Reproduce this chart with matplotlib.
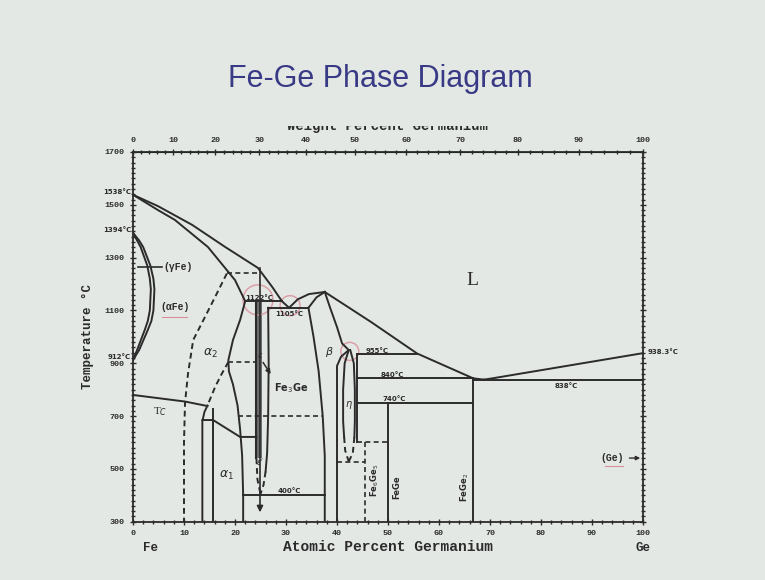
import numpy as np
import matplotlib.pyplot as plt
from matplotlib.patches import Ellipse, Rectangle

# phase boundaries, points are (at.% Ge, temperature in C)
liquidus_fe = [(0, 1538), (4.9, 1495), (11.6, 1424), (18.1, 1340), (24.5, 1261),
               (27.3, 1189), (29.2, 1135), (30.6, 1110)]
solidus_fe = [(0, 1538), (4.9, 1480), (8.2, 1443), (14.7, 1340), (20.0, 1215), (22.0, 1135)]
gamma_outer = [(0, 1394), (1.2, 1365), (2.0, 1340), (3.4, 1270), (4.0, 1220), (4.2, 1180),
               (4.1, 1140), (4.0, 1100), (3.6, 1060), (2.9, 1026), (1.2, 950), (0, 912)]
gamma_inner = [(0, 1394), (0.8, 1365), (1.5, 1340), (2.8, 1270), (3.3, 1220), (3.5, 1180),
               (3.4, 1140), (3.3, 1100), (2.9, 1060), (2.3, 1026), (0.8, 950), (0, 912)]
alpha_edge = [(22.0, 1135), (21.0, 1064), (19.6, 988), (18.7, 912), (18.8, 870),
              (19.6, 820), (20.5, 740), (21.0, 650), (21.4, 550), (21.6, 400), (21.6, 300)]
alpha_order = [(18.4, 1240), (16.1, 1151), (13.5, 1052), (11.8, 988), (11.2, 912),
               (10.8, 863), (10.2, 750), (10.0, 600), (10.0, 300)]
alpha2_alpha1 = [(18.7, 905), (17.4, 860), (16.1, 810), (14.6, 740)]
alpha1_left = [(14.6, 740), (14.0, 715), (13.6, 680), (13.6, 300)]
alpha1_right = [(15.7, 728), (15.7, 300)]
curie = [(0, 780), (10.2, 755), (14.6, 738)]
curie_low = [(13.6, 685), (15.7, 685), (21.0, 621), (24.2, 621)]

eps_band_x = [24.2, 25.2]
eps_band_t = [1135, 540]
eps_right = [(26.5, 1110), (26.6, 900), (26.5, 700), (26.3, 560), (26.0, 490)]
eps_tip_right = [(26.0, 490), (25.6, 440), (25.0, 405)]
eps_tip_left = [(24.2, 540), (24.4, 460), (25.0, 405)]

liquidus_mid = [(30.6, 1110), (32.3, 1142), (34.5, 1162), (37.6, 1170)]
beta_top_left = [(34.4, 1110), (36.0, 1150), (37.6, 1170)]
beta_left = [(34.4, 1110), (35.4, 1000), (36.4, 870), (37.2, 700), (37.6, 550), (37.6, 300)]
beta_right = [(37.6, 1170), (38.6, 1113), (40.0, 1037), (41.0, 975), (42.3, 950),
              (40.8, 925), (40.0, 890), (40.0, 300)]
liquidus_right = [(37.6, 1170), (46.7, 1056), (55.7, 937), (66.7, 843), (68.8, 838)]
liquidus_ge = [(68.8, 838), (70.5, 843), (100, 938.3)]

eta_left = [(42.3, 950), (41.5, 900), (41.2, 800), (41.2, 680), (41.4, 620)]
eta_left_low = [(41.4, 620), (41.6, 570), (42.3, 528)]
eta_right = [(42.6, 950), (43.3, 900), (43.5, 800), (43.5, 680), (43.4, 620)]
eta_right_low = [(43.4, 620), (43.1, 560), (42.3, 528)]

# invariant lines: (x_start, x_end, temperature)
solid_isotherms = [(22.0, 29.2, 1135), (26.5, 34.4, 1110), (43.9, 55.7, 935),
                   (43.9, 66.7, 843), (43.9, 66.7, 750), (66.7, 100, 838), (21.6, 37.6, 400)]
dashed_isotherms = [(18.4, 24.6, 1240), (18.7, 24.4, 905), (20.5, 37.3, 700),
                    (43.9, 50.0, 600), (40.0, 45.5, 526)]
# compound lines: (x, t_top, t_bottom)
solid_verticals = [(43.9, 935, 600), (50.0, 750, 300), (66.7, 843, 300)]
dashed_verticals = [(45.5, 600, 300)]

temp_labels = [("1122°C", 24.8, 1148), ("1105°C", 30.6, 1088), ("955°C", 47.8, 948),
               ("840°C", 50.8, 856), ("740°C", 51.2, 763), ("838°C", 85.0, 812),
               ("400°C", 30.6, 415)]
left_marks = [("1538°C", 1538), ("1394°C", 1394), ("912°C", 912)]
compounds = [("Fe$_6$Ge$_5$", 47.5, 455), ("FeGe", 51.8, 430), ("FeGe$_2$", 65.1, 430)]
at_ticks = list(range(0, 101, 10))
t_ticks = list(range(300, 1701, 200))
wt_ticks = list(range(0, 101, 10))

INK = '#2b2b2b'
BG = '#e4e8e5'
MONO = 'Liberation Mono'
DASH = (0, (3, 2))


def wt_to_at(w):
    w = np.asarray(w, dtype=float)
    a = w / 72.63
    b = (100 - w) / 55.845
    return 100 * a / (a + b)


def curve(pts, ls='-', lw=1.4):
    xs, ts = zip(*pts)
    ax.plot(xs, ts, color=INK, lw=lw, ls=ls, solid_joinstyle='round')


fig = plt.figure(figsize=(7.65, 5.8), dpi=100)
fig.patch.set_facecolor(BG)

fig.text(0.497, 0.864, "Fe-Ge Phase Diagram", ha='center', va='center',
         fontsize=22, color='#393a85', family='Liberation Sans')
# the weight-percent caption is cut off at the top on the slide
fig.text(0.507, 0.782, "Weight Percent Germanium", ha='center', va='center',
         fontsize=10, family=MONO, weight='bold', color=INK, zorder=0)
fig.patches.append(Rectangle((0, 0.783), 1, 0.035, transform=fig.transFigure,
                             facecolor=BG, edgecolor='none', zorder=1))

ax = fig.add_axes([133 / 765, 1 - 521.7 / 580, 510 / 765, 369.7 / 580])
ax.set_facecolor(BG)
ax.set_xlim(0, 100)
ax.set_ylim(300, 1700)

for pts in [liquidus_fe, solidus_fe, gamma_outer, gamma_inner, alpha_edge,
            alpha1_left, alpha1_right, curie, curie_low, eps_right,
            liquidus_mid, beta_top_left, beta_left, beta_right, liquidus_right,
            liquidus_ge, eta_left, eta_right]:
    curve(pts)
for pts in [alpha_order, alpha2_alpha1, eps_tip_right, eps_tip_left,
            eta_left_low, eta_right_low]:
    curve(pts, ls=DASH)

# narrow epsilon field shaded
ax.fill_betweenx(eps_band_t, eps_band_x[0], eps_band_x[1], color='#6d6d6d', lw=0)
ax.plot([eps_band_x[0]] * 2, eps_band_t, color=INK, lw=1.5)

for x0, x1, t in solid_isotherms:
    ax.plot([x0, x1], [t, t], color=INK, lw=1.4)
for x0, x1, t in dashed_isotherms:
    ax.plot([x0, x1], [t, t], color=INK, lw=1.2, ls=DASH)
for x, t0, t1 in solid_verticals:
    ax.plot([x, x], [t0, t1], color=INK, lw=1.4)
for x, t0, t1 in dashed_verticals:
    ax.plot([x, x], [t0, t1], color=INK, lw=1.2, ls=DASH)

# cooling path at 25 at.% drawn on the slide
ax.annotate('', xy=(24.9, 325), xytext=(24.9, 1272),
            arrowprops=dict(arrowstyle='-|>', color=INK, lw=1.2, mutation_scale=9))

# red pen circles from the lecture
for cx, ct, r in [(24.5, 1140, 15), (30.8, 1118, 10), (42.5, 945, 9)]:
    ax.add_patch(Ellipse((cx, ct), 2 * r / 5.1, 2 * r / 0.2641, fill=False,
                         edgecolor='#d88d97', lw=1.1, alpha=0.8))

for txt, x, t in temp_labels:
    ax.text(x, t, txt, fontsize=5, weight='bold', ha='center', va='center',
            family='DejaVu Sans', color=INK)
for txt, x, t in compounds:
    ax.text(x, t, txt, fontsize=6, weight='bold', rotation=90, ha='center',
            va='center', color=INK)

ax.text(66.5, 1215, "L", fontsize=14, family='Liberation Serif', ha='center', va='center', color=INK)
ax.plot([1.0, 5.7], [1265, 1265], color=INK, lw=1.2)
ax.text(5.9, 1265, "(γFe)", fontsize=7, weight='bold', family=MONO, va='center', color=INK)
ax.text(5.3, 1113, "(αFe)", fontsize=7, weight='bold', family=MONO, va='center', color=INK)
ax.plot([5.6, 10.5], [1075, 1075], color='#d88d97', lw=0.8)
ax.text(15.1, 939, r"$\alpha_2$", fontsize=9, ha='center', va='center', color=INK)
ax.text(18.4, 477, r"$\alpha_1$", fontsize=9, ha='center', va='center', color=INK)
ax.text(5.3, 718, r"T$_C$", fontsize=8, ha='center', va='center', color=INK, family='Liberation Serif')
ax.text(38.6, 943, r"$\beta$", fontsize=8, ha='center', va='center', color=INK)
ax.text(42.4, 742, r"$\eta$", fontsize=7, ha='center', va='center', color=INK)
ax.text(24.9, 931, r"$\epsilon$", fontsize=6, ha='center', va='center', color=INK)
ax.text(24.9, 527, r"$\epsilon'$", fontsize=6, ha='center', va='center', color=INK)
ax.annotate("Fe$_3$Ge", xy=(27.3, 850), xytext=(27.6, 805), fontsize=7, weight='bold',
            ha='left', va='center', color=INK)
ax.annotate('', xy=(27.3, 850), xytext=(25.2, 912),
            arrowprops=dict(arrowstyle='-|>', color=INK, lw=1.1, mutation_scale=7))
ax.text(94.0, 541, "(Ge)", fontsize=7, weight='bold', family=MONO, ha='center', va='center', color=INK)
ax.plot([92.5, 96.0], [510, 510], color='#d88d97', lw=0.8)
ax.annotate('', xy=(100, 541), xytext=(96.8, 541),
            arrowprops=dict(arrowstyle='-|>', color=INK, lw=1.0, mutation_scale=6))

# axes, ticks and captions
for s in ax.spines.values():
    s.set_color(INK)
    s.set_linewidth(1.3)
ax.set_xticks(at_ticks)
ax.set_xticks(range(0, 101, 2), minor=True)
ax.set_yticks(t_ticks)
ax.set_yticks(range(300, 1701, 20), minor=True)
ax.tick_params(which='both', direction='inout', colors=INK, right=True, labelsize=6, width=1)
ax.tick_params(which='major', length=5)
ax.tick_params(which='minor', length=2.5)
for lab in ax.get_xticklabels() + ax.get_yticklabels():
    lab.set_family(MONO)
    lab.set_weight('bold')

top = ax.secondary_xaxis('top')
top.set_xticks(wt_to_at(wt_ticks), [str(w) for w in wt_ticks])
top.set_xticks(wt_to_at(range(0, 101, 2)), minor=True)
top.tick_params(which='both', direction='inout', colors=INK, labelsize=6, width=1)
top.tick_params(which='major', length=5)
top.tick_params(which='minor', length=2.5)
for lab in top.get_xticklabels():
    lab.set_family(MONO)
    lab.set_weight('bold')

for txt, t in left_marks:
    ax.text(-0.4, t, txt, fontsize=5, weight='bold', ha='right', va='bottom', color=INK,
            clip_on=False)
ax.text(101.0, 943, "938.3°C", fontsize=5, weight='bold', ha='left', va='center', color=INK,
        clip_on=False)

ax.set_xlabel("Atomic Percent Germanium", fontsize=10.5, family=MONO, weight='bold',
              color=INK, labelpad=2)
ax.set_ylabel("Temperature °C", fontsize=9, family=MONO, weight='bold', color=INK, labelpad=8)
ax.text(3.5, 225, "Fe", fontsize=9, family=MONO, weight='bold', ha='center', va='top',
        color=INK, clip_on=False)
ax.text(100, 225, "Ge", fontsize=9, family=MONO, weight='bold', ha='center', va='top',
        color=INK, clip_on=False)

fig.savefig("out.png", dpi=100, facecolor=BG)
